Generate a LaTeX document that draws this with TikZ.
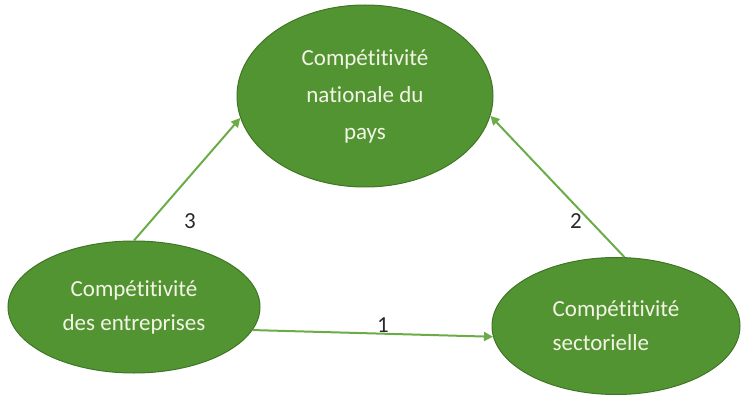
\documentclass[tikz,border=0pt]{standalone}
\usepackage{fontspec}
\setmainfont{Carlito}[Ligatures=NoCommon]
\usetikzlibrary{shapes.geometric, arrows.meta, positioning}
\definecolor{ellgreen}{RGB}{82,148,50}
\definecolor{ellborder}{RGB}{62,118,38}
\definecolor{arrowgreen}{RGB}{108,172,72}
\definecolor{labeltext}{RGB}{244,244,230}
\definecolor{numgray}{RGB}{40,40,50}
\tikzset{
  compell/.style={ellipse, draw=ellborder, fill=ellgreen, line width=1pt,
    text=labeltext, font=\fontsize{23}{37}\selectfont, align=center},
  lnk/.style={-{Triangle[length=9pt, width=9pt]}, line width=2pt, color=arrowgreen},
  numlbl/.style={font=\fontsize{23}{26}\selectfont, text=numgray},
}
\begin{document}
\begin{tikzpicture}[x=1pt, y=-1pt]
\useasboundingbox (0,0) rectangle (742,401);
% the three levels
\node[compell, minimum width=256pt, minimum height=182pt] (natl) at (365,96)
  {Compétitivité\\nationale du\\pays};
\node[compell, minimum width=252pt, minimum height=132pt,
  font=\fontsize{23}{34}\selectfont] (firms) at (134,307)
  {Compétitivité\\des entreprises};
\node[compell, minimum width=248pt, minimum height=137pt, align=left,
  font=\fontsize{23}{34}\selectfont] (sect) at (616,326)
  {Compétitivité\\sectorielle};
% links
\draw[lnk] (firms.north) -- (natl.190);
\draw[lnk] (sect.83) -- (natl.351);
\draw[lnk] (firms.349) -- (sect.185);
\node[numlbl] (n3) at (190,221) {3};
\node[numlbl] (n2) at (576,221) {2};
\node[numlbl] (n1) at (383,325) {1};
\end{tikzpicture}
\end{document}
